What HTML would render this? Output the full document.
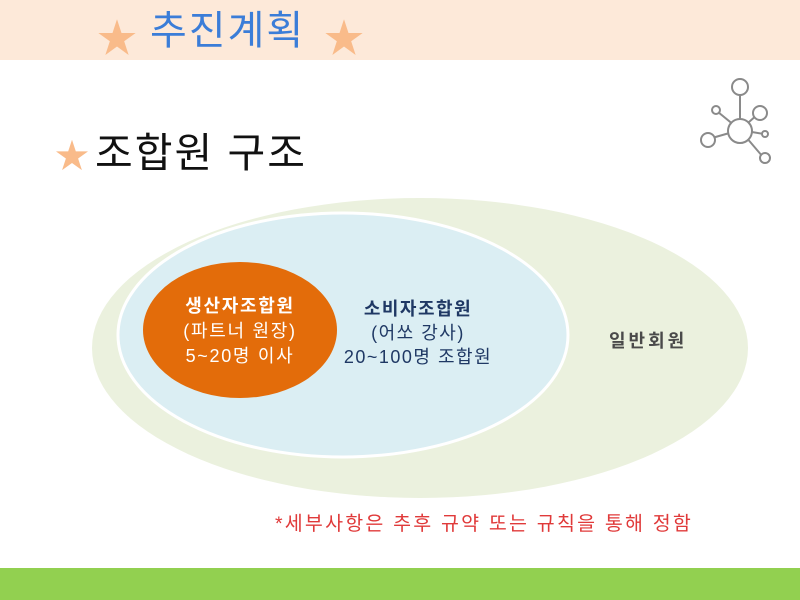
<!DOCTYPE html>
<html><head><meta charset="utf-8"><style>
body{margin:0;width:800px;height:600px;overflow:hidden;background:#fff;position:relative;font-family:"Liberation Sans","Noto Sans CJK KR",sans-serif}
.a{position:absolute;white-space:nowrap}
</style></head><body>
<div class="a" style="left:0;top:0;width:800px;height:60px;background:#fde9d9"></div>
<div class="a" style="left:97px;top:14px;font-size:40px;color:#f9bb8a;line-height:50px">★</div>
<div class="a" style="left:150px;top:6px;font-size:40px;letter-spacing:2px;color:#3b7dd8;line-height:50px">추진계획</div>
<div class="a" style="left:324px;top:14px;font-size:40px;color:#f9bb8a;line-height:50px">★</div>
<div class="a" style="left:0;top:568px;width:800px;height:32px;background:#92d050"></div>
<div class="a" style="left:55px;top:135px;font-size:34px;color:#f9bb8a;line-height:44px">★</div>
<div class="a" style="left:95px;top:128px;font-size:41px;letter-spacing:2px;color:#111;line-height:50px">조합원 구조</div>
<svg class="a" style="left:0;top:0" width="800" height="600">
<ellipse cx="420" cy="348" rx="328" ry="150" fill="#ebf1de"/>
<ellipse cx="343" cy="335" rx="225" ry="122" fill="#dbeef3" stroke="#fff" stroke-width="3"/>
<ellipse cx="240" cy="330" rx="97" ry="68" fill="#e36c0a"/>
<g stroke="#8a8a8a" stroke-width="2" fill="#fff">
<line x1="740" y1="130" x2="740" y2="95"/><line x1="740" y1="130" x2="718" y2="112"/><line x1="740" y1="130" x2="758" y2="114"/>
<line x1="740" y1="130" x2="712" y2="138"/><line x1="740" y1="130" x2="764" y2="134"/><line x1="740" y1="130" x2="763" y2="157"/>
<circle cx="740" cy="131" r="12"/><circle cx="740" cy="87" r="8"/><circle cx="716" cy="110" r="4"/>
<circle cx="760" cy="113" r="7"/><circle cx="708" cy="140" r="7"/><circle cx="765" cy="134" r="3"/><circle cx="765" cy="158" r="5"/>
</g>
</svg>
<div class="a" style="left:130px;top:294px;width:220px;text-align:center;color:#fff;font-size:18px;letter-spacing:1.7px;line-height:25px"><b>생산자조합원</b><br>(파트너 원장)<br>5~20명 이사</div>
<div class="a" style="left:308px;top:297px;width:220px;text-align:center;color:#1f3864;font-size:18px;letter-spacing:1.5px;line-height:24px"><b>소비자조합원</b><br>(어쏘 강사)<br>20~100명 조합원</div>
<div class="a" style="left:609px;top:329px;color:#4a4a4a;font-size:18px;letter-spacing:3px;font-weight:bold;line-height:24px">일반회원</div>
<div class="a" style="left:275px;top:511px;color:#e03a3a;font-size:19.5px;letter-spacing:2.2px;line-height:26px">*세부사항은 추후 규약 또는 규칙을 통해 정함</div>
</body></html>
